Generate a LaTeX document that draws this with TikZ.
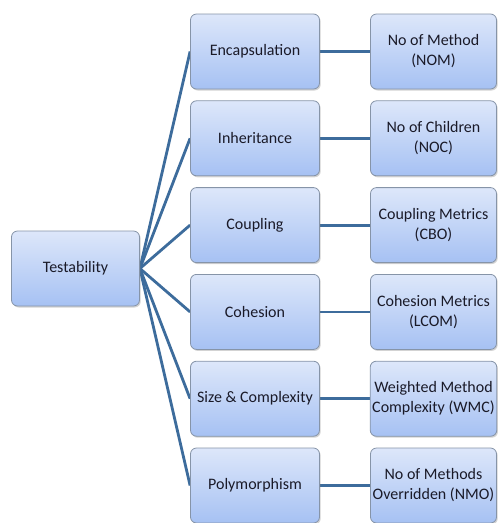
\documentclass[tikz,border=0pt]{standalone}
\usepackage{fontspec}
\setmainfont{Carlito}
\usetikzlibrary{shadows,backgrounds}
\definecolor{linec}{HTML}{3D6C9C}
\definecolor{boxtop}{HTML}{DDE7FA}
\definecolor{boxbot}{HTML}{A6C1F3}
\definecolor{boxborder}{HTML}{8694A8}
\definecolor{textc}{HTML}{1A1A28}
\begin{document}
\begin{tikzpicture}[x=1pt,y=-1pt,
  box/.style={draw=boxborder, line width=0.8pt, rounded corners=6pt,
    top color=boxtop, bottom color=boxbot,
    minimum height=75pt, align=center, inner sep=2pt, text=textc,
    font=\fontsize{16}{20}\selectfont,
    drop shadow={shadow xshift=1.2pt, shadow yshift=-1.5pt, opacity=0.35}},
  midbox/.style={box, minimum width=129pt},
  rightbox/.style={box, minimum width=126pt},
  conn/.style={draw=linec, line width=2.8pt}]
\useasboundingbox (0,0) rectangle (498,523);
\node[box, minimum width=128pt] (t) at (75.5,268.5) {Testability};
\node[midbox] (m1) at (255,51.5) {Encapsulation};
\node[midbox] (m2) at (255,138.3) {Inheritance};
\node[midbox] (m3) at (255,225.1) {Coupling};
\node[midbox] (m4) at (255,311.9) {Cohesion};
\node[midbox] (m5) at (255,398.7) {Size \& Complexity};
\node[midbox] (m6) at (255,485.5) {Polymorphism};
\node[rightbox] (r1) at (433.5,51.5) {No of Method\\(NOM)};
\node[rightbox] (r2) at (433.5,138.3) {No of Children\\(NOC)};
\node[rightbox] (r3) at (433.5,225.1) {Coupling Metrics\\(CBO)};
\node[rightbox] (r4) at (433.5,311.9) {Cohesion Metrics\\(LCOM)};
\node[rightbox] (r5) at (433.5,398.7) {Weighted Method\\Complexity (WMC)};
\node[rightbox] (r6) at (433.5,485.5) {No of Methods\\Overridden (NMO)};
\begin{scope}[on background layer]
\foreach \i in {1,...,6} {
  \draw[conn] (t.east) -- (m\i.west);
  \draw[conn] (m\i.east) -- (r\i.west);
}
\end{scope}
\end{tikzpicture}
\end{document}
